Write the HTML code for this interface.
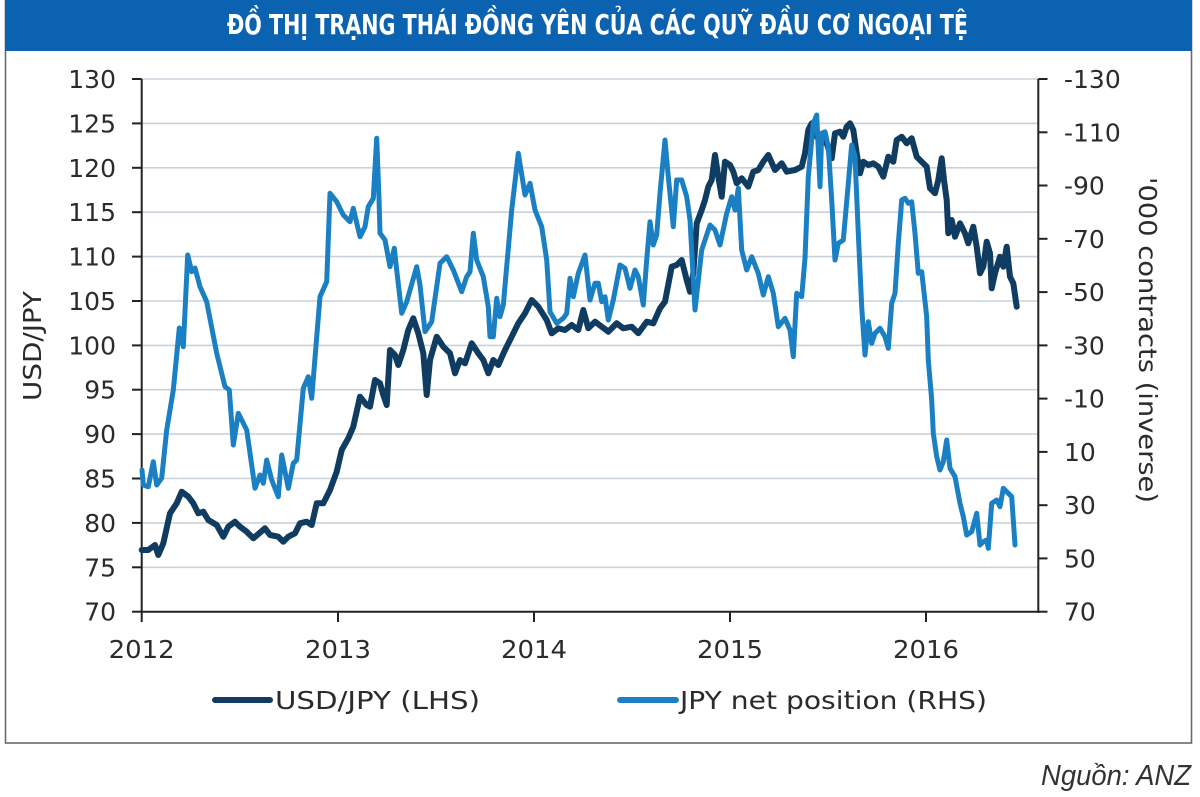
<!DOCTYPE html>
<html>
<head>
<meta charset="utf-8">
<style>
  html, body { margin: 0; padding: 0; background: #ffffff; }
  svg { display: block; }
  .lbl { font-family: "DejaVu Sans", "Liberation Sans", sans-serif; font-size: 25px; fill: #2b2b2b; }
</style>
</head>
<body>
<svg width="1200" height="797" viewBox="0 0 1200 797" xmlns="http://www.w3.org/2000/svg">
  <rect x="0" y="0" width="1200" height="797" fill="#ffffff"/>
  <!-- outer frame -->
  <rect x="5.5" y="1" width="1186" height="742" fill="#ffffff" stroke="#6a6a6a" stroke-width="1.6"/>
  <!-- title bar -->
  <rect x="5" y="0" width="1187" height="51" fill="#0b62b0"/>
  <text x="227" y="34" textLength="741" lengthAdjust="spacingAndGlyphs"
        font-family="'Liberation Sans Narrow','DejaVu Sans Condensed','Liberation Sans',sans-serif"
        font-weight="bold" font-size="28" fill="#ffffff">ĐỒ THỊ TRẠNG THÁI ĐỒNG YÊN CỦA CÁC QUỸ ĐẦU CƠ NGOẠI TỆ</text>

  <!-- gridlines -->
  <g stroke="#c9d2db" stroke-width="1.6">
    <line x1="142" y1="79" x2="1038" y2="79"/>
    <line x1="142" y1="123.4" x2="1038" y2="123.4"/>
    <line x1="142" y1="167.8" x2="1038" y2="167.8"/>
    <line x1="142" y1="212.2" x2="1038" y2="212.2"/>
    <line x1="142" y1="256.6" x2="1038" y2="256.6"/>
    <line x1="142" y1="301" x2="1038" y2="301"/>
    <line x1="142" y1="345.4" x2="1038" y2="345.4"/>
    <line x1="142" y1="389.7" x2="1038" y2="389.7"/>
    <line x1="142" y1="434.1" x2="1038" y2="434.1"/>
    <line x1="142" y1="478.5" x2="1038" y2="478.5"/>
    <line x1="142" y1="522.9" x2="1038" y2="522.9"/>
    <line x1="142" y1="567.3" x2="1038" y2="567.3"/>
  </g>

  <!-- axes -->
  <g stroke="#222" stroke-width="2" fill="none">
    <line x1="141.7" y1="79" x2="141.7" y2="612.7"/>
    <line x1="1038.3" y1="79" x2="1038.3" y2="612.7"/>
    <line x1="140.7" y1="611.7" x2="1039.3" y2="611.7"/>
    <!-- left ticks -->
    <line x1="132" y1="79" x2="141.7" y2="79"/>
    <line x1="132" y1="123.4" x2="141.7" y2="123.4"/>
    <line x1="132" y1="167.8" x2="141.7" y2="167.8"/>
    <line x1="132" y1="212.2" x2="141.7" y2="212.2"/>
    <line x1="132" y1="256.6" x2="141.7" y2="256.6"/>
    <line x1="132" y1="301" x2="141.7" y2="301"/>
    <line x1="132" y1="345.4" x2="141.7" y2="345.4"/>
    <line x1="132" y1="389.7" x2="141.7" y2="389.7"/>
    <line x1="132" y1="434.1" x2="141.7" y2="434.1"/>
    <line x1="132" y1="478.5" x2="141.7" y2="478.5"/>
    <line x1="132" y1="522.9" x2="141.7" y2="522.9"/>
    <line x1="132" y1="567.3" x2="141.7" y2="567.3"/>
    <line x1="132" y1="611.7" x2="141.7" y2="611.7"/>
    <!-- right ticks -->
    <line x1="1038.3" y1="79" x2="1047.5" y2="79"/>
    <line x1="1038.3" y1="132.3" x2="1047.5" y2="132.3"/>
    <line x1="1038.3" y1="185.5" x2="1047.5" y2="185.5"/>
    <line x1="1038.3" y1="238.8" x2="1047.5" y2="238.8"/>
    <line x1="1038.3" y1="292.1" x2="1047.5" y2="292.1"/>
    <line x1="1038.3" y1="345.4" x2="1047.5" y2="345.4"/>
    <line x1="1038.3" y1="398.6" x2="1047.5" y2="398.6"/>
    <line x1="1038.3" y1="451.9" x2="1047.5" y2="451.9"/>
    <line x1="1038.3" y1="505.2" x2="1047.5" y2="505.2"/>
    <line x1="1038.3" y1="558.4" x2="1047.5" y2="558.4"/>
    <line x1="1038.3" y1="611.7" x2="1047.5" y2="611.7"/>
    <!-- bottom ticks -->
    <line x1="141.7" y1="611.7" x2="141.7" y2="622"/>
    <line x1="338" y1="611.7" x2="338" y2="622"/>
    <line x1="534" y1="611.7" x2="534" y2="622"/>
    <line x1="730" y1="611.7" x2="730" y2="622"/>
    <line x1="926" y1="611.7" x2="926" y2="622"/>
  </g>

  <!-- left labels -->
  <g class="lbl" text-anchor="end">
    <text x="116" y="88">130</text>
    <text x="116" y="132.4">125</text>
    <text x="116" y="176.8">120</text>
    <text x="116" y="221.2">115</text>
    <text x="116" y="265.6">110</text>
    <text x="116" y="310">105</text>
    <text x="116" y="354.4">100</text>
    <text x="116" y="398.7">95</text>
    <text x="116" y="443.1">90</text>
    <text x="116" y="487.5">85</text>
    <text x="116" y="531.9">80</text>
    <text x="116" y="576.3">75</text>
    <text x="116" y="620.7">70</text>
  </g>

  <!-- right labels -->
  <g class="lbl" text-anchor="start">
    <text x="1064" y="88">-130</text>
    <text x="1064" y="141.3">-110</text>
    <text x="1064" y="194.5">-90</text>
    <text x="1064" y="247.8">-70</text>
    <text x="1064" y="301.1">-50</text>
    <text x="1064" y="354.4">-30</text>
    <text x="1064" y="407.6">-10</text>
    <text x="1064" y="460.9">10</text>
    <text x="1064" y="514.2">30</text>
    <text x="1064" y="567.4">50</text>
    <text x="1064" y="620.7">70</text>
  </g>

  <!-- year labels -->
  <g class="lbl" text-anchor="middle">
    <text x="141.7" y="658" textLength="66" lengthAdjust="spacingAndGlyphs">2012</text>
    <text x="338" y="658" textLength="66" lengthAdjust="spacingAndGlyphs">2013</text>
    <text x="534" y="658" textLength="66" lengthAdjust="spacingAndGlyphs">2014</text>
    <text x="730" y="658" textLength="66" lengthAdjust="spacingAndGlyphs">2015</text>
    <text x="926" y="658" textLength="66" lengthAdjust="spacingAndGlyphs">2016</text>
  </g>

  <!-- axis titles -->
  <text class="lbl" transform="translate(41,346) rotate(-90)" text-anchor="middle" textLength="110" lengthAdjust="spacingAndGlyphs">USD/JPY</text>
  <text class="lbl" transform="translate(1139,340) rotate(90)" text-anchor="middle" textLength="326" lengthAdjust="spacingAndGlyphs">'000 contracts (inverse)</text>

  <!-- USD/JPY series -->
  <polyline fill="none" stroke="#0f3c60" stroke-width="6" stroke-linejoin="round" stroke-linecap="round"
    points="141.7,550 148.3,550 155,545 158.3,555 163.3,543.3 170,513.3 176.7,503.3 181.7,491.7 188.3,496.7 193.3,503.3 198.3,513.3 203.3,511.7 208.3,520 216.7,525 223.3,536.7 228.3,526.7 235,521.7 240,526.7 246.7,531.7 253.3,538.3 265,528.3 270,535 278.3,536.7 283.3,541.7 288.3,536.7 295,533.3 300,523.3 306.7,521.7 311.7,525 316.7,503.3 323.3,503.3 330,490 336.7,471.7 341.7,450 348.3,438.3 353.3,426.7 360,396.7 366.7,405 370,406.7 375,380 380,383.3 383.3,395 386.7,405 390,350 395,355 398.3,365 403.3,350 408.3,330 413.3,318.3 418.3,333.3 423.3,353.3 426.7,395 430,360 436.7,336.7 443.3,346.7 450,353.3 455,373.3 460,360 465,363.3 471.7,343.3 478.3,353.3 483.3,360 488.3,373.3 493.3,360 498.3,365 505,350 511.7,336.7 518.3,323.3 525,313.3 531.7,300 538.3,306.7 546.7,320 551.7,333.3 558.3,328.3 565,330 571.7,325 578.3,330 583.3,310 588.3,328.3 595,321.7 601.7,326.7 608.3,331.7 616.7,323.3 623.3,328.3 631.7,326.7 638.3,333.3 646.7,321.7 653.3,323.3 660,308.3 665,301.7 671.7,266.7 676.7,265 681.7,260 686.7,280 690,291.7 693.3,273.3 696.7,223.3 701.7,210 705,200 708.3,186.7 711.7,180 715,155 718.3,176.7 721.7,196.7 725,161.7 730,165 733.3,171.7 736.7,183.3 741.7,178.3 748.3,186.7 753.3,171.7 758.3,170 763.3,161.7 768.3,155 775,170 781.7,163.3 786.7,171.7 795,170 801.7,166.7 805,153.3 808.3,130 811.7,123.3 816.7,136.7 820,140 826.7,143.3 831.7,158.3 835,133.3 840,131.7 843.3,136.7 846.7,126.7 850,123.3 853.3,130 856.7,153.3 860,173.3 863.3,161.7 868.3,165 873.3,163.3 878.3,166.7 883.3,176.7 888.3,156.7 893.3,161.7 896.7,140 901.7,136.7 906.7,143.3 911.7,138.3 916.7,156.7 921.7,161.7 926.7,166.7 930,188.3 935,193.3 938.3,180 941.7,158.3 944,180 946.7,200 948.3,233.3 951.7,220 955,236.7 960,223.3 965,233.3 968.3,243.3 973.3,226.7 976.7,246.7 980,273.3 983.3,266.7 986.7,241.7 990,253.3 991.7,288.3 995,273.3 1000,256.7 1003.3,266.7 1006.7,246.7 1010,276.7 1013.3,283.3 1016.7,306.7"/>

  <!-- JPY net position series -->
  <polyline fill="none" stroke="#1a80c3" stroke-width="5" stroke-linejoin="round" stroke-linecap="round"
    points="142,470 143.3,485 148.3,486.7 153.3,461.7 156.7,485 161.7,478 166.7,430 173.3,390 179.3,328 183.3,346.7 187.7,255 191.7,271.7 195,268 200,286.7 206.7,301.7 216.7,353.3 225,386.7 229.3,390 233.3,445 238.3,413.3 246.7,430 255,488.3 260,475 263.3,483.3 266.7,460 271.7,480 278.3,496.7 281.7,455 288.3,488.3 293.3,463.3 296.7,460 303.3,388.3 308.3,376.7 311.7,398.3 320,296.7 326.7,281.7 330,193.3 336.7,201.7 343.3,215 350,221.7 353.3,208.3 360,236.7 365,226.7 368.3,206.7 373.3,198.3 376.7,138.3 379,198.3 380,233.3 385,240 390,266.7 394.3,248.3 396.7,270 401.7,313.3 406.7,301.7 416.7,266.7 420,285 425,331.7 431.7,321.7 440,263.3 446.7,256.7 453.3,270 461.7,291.7 466.7,276.7 470,271.7 473.3,233.3 476.7,260 483.3,276.7 488.3,306.7 490,336.7 493.3,336.7 496.7,298.3 500,316.7 503.3,305 511.7,210 518.3,153.3 525,195 530,183.3 535,210 541.7,226.7 546.7,260 550,311.7 556.7,323.3 563.3,318.3 566.7,313.3 570,278.3 573.3,296.7 578.3,273.3 585,255 590,300 595,283.3 598.3,283.3 601.7,301.7 605,296.7 608.3,320 613.3,300 620,265 625,268.3 630,288.3 635,270 638.3,276.7 643.3,305 646.7,260 650,221.7 653.3,245 656.7,235 660,193.3 665,140 668.3,176.7 673.3,226.7 676.7,180 681.7,180 686.7,196.7 690,220 695,310 701.7,250 710,225 715,230 720,245 726.7,213.3 731.7,196.7 735,210 738.3,188.3 741.7,250 746.7,270 751.7,256.7 758.3,273.3 763.3,295 768.3,276.7 773.3,293.3 778.3,326.7 785,318.3 790,330 793.3,356.7 796.7,293.3 801.7,296.7 805,258.3 808.3,176.7 813.3,123.3 816.7,115 820,186.7 821.7,133.3 825,131.7 828.3,146.7 831.7,200 835,260 838.3,243.3 843.3,240 848.3,183.3 851.7,145 855,156.7 858.3,233.3 861.7,306.7 865,355 868.3,321.7 871.7,343.3 875,333.3 880,328.3 885,336.7 888.3,348.3 891.7,303.3 895,293.3 898.3,243.3 901.7,200 905,198.3 908.3,203.3 911.7,201.7 915,233.3 918.3,273.3 921.7,271.7 926.7,316.7 928.3,360 931.7,400 933.3,433.3 936.7,456.7 940,470 943.3,461.7 946.7,440 950,468.3 955,476.7 960,503.3 963.3,516.7 966.7,535 971.7,531.7 976.7,513.3 980,545 983.3,541.7 986.7,540 988.3,548.3 991.7,503.3 996.7,500 1000,506.7 1003.3,488.3 1008.3,493.3 1011.7,496.7 1015,545"/>

  <!-- legend -->
  <line x1="215" y1="700" x2="270" y2="700" stroke="#0f3c60" stroke-width="6" stroke-linecap="round"/>
  <text class="lbl" x="275" y="709" textLength="205" lengthAdjust="spacingAndGlyphs">USD/JPY (LHS)</text>
  <line x1="620" y1="700" x2="676" y2="700" stroke="#1a80c3" stroke-width="6" stroke-linecap="round"/>
  <text class="lbl" x="680" y="709" textLength="307" lengthAdjust="spacingAndGlyphs">JPY net position (RHS)</text>

  <!-- source -->
  <text x="1041" y="785" textLength="150" lengthAdjust="spacingAndGlyphs"
        font-family="'Liberation Sans','DejaVu Sans',sans-serif" font-style="italic" font-size="29" fill="#333333">Nguồn: ANZ</text>
</svg>
</body>
</html>
